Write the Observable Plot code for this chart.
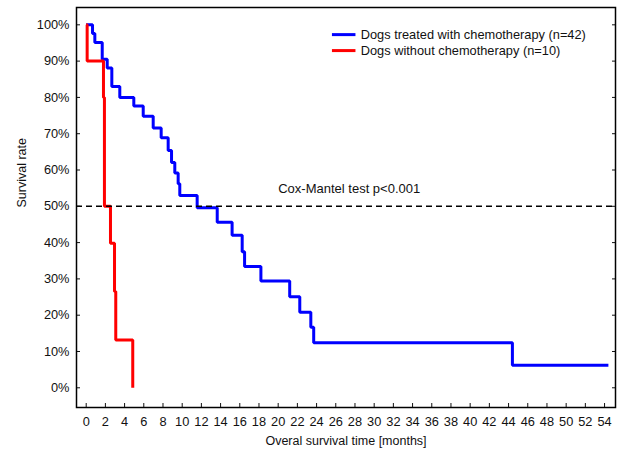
<!DOCTYPE html>
<html>
<head>
<meta charset="utf-8">
<script src="https://cdn.jsdelivr.net/npm/d3@7"></script>
<script src="https://cdn.jsdelivr.net/npm/@observablehq/plot@0.6"></script>
<style>
  html, body { margin: 0; padding: 0; background: #fff; }
  #chart svg { display: block; }
</style>
</head>
<body>
<div id="chart"></div>
<script>
// Kaplan–Meier steps (time in months, survival fraction)
const chemoTime = [0, 0.66, 0.9, 1.67, 2.19, 2.67, 3.5, 4.96, 5.94, 6.98, 7.81, 8.54, 8.89, 9.23, 9.58, 9.75, 11.56, 13.65, 15.2, 16.25, 16.5, 18.2, 21.2, 22.25, 23.4, 23.7, 44.4, 54.4];
const chemoSurv = [1, 0.976, 0.951, 0.905, 0.881, 0.83, 0.80, 0.776, 0.748, 0.716, 0.689, 0.654, 0.621, 0.592, 0.562, 0.530, 0.496, 0.456, 0.42, 0.375, 0.334, 0.294, 0.251, 0.208, 0.167, 0.124, 0.062, 0.062];
const noChemoTime = [0, 0.1, 1.8, 1.9, 2.53, 2.95, 3.08, 4.85, 4.85];
const noChemoSurv = [1, 0.9, 0.8, 0.5, 0.398, 0.265, 0.132, 0.132, 0];

const seriesNames = ["Dogs treated with chemotherapy (n=42)", "Dogs without chemotherapy (n=10)"];
const seriesColors = ["#0000ff", "#ff0000"];

const xTicks = d3.range(0, 55, 2);
const yTicks = d3.range(0, 11).map(i => i / 10);

const annotation = {text: "Cox-Mantel test p<0.001", x: 27.4, y: 0.548};
const threshold = [0.5];

// legend placement in data units
const legendLineX = [25.6, 28.05];
const legendTextX = 28.6;
const legendY = [0.973, 0.929];

const chemo = chemoTime.map((t, i) => ({t, s: chemoSurv[i]}));
const noChemo = noChemoTime.map((t, i) => ({t, s: noChemoSurv[i]}));
const legend = seriesNames.map((name, i) => ({name, color: seriesColors[i], y: legendY[i]}));

const pct = d => Math.round(d * 100) + "%";

const chart = Plot.plot({
  width: 622,
  height: 455,
  marginLeft: 76,
  marginRight: 7,
  marginTop: 7,
  marginBottom: 48,
  style: {fontFamily: "'Liberation Sans', Arial, sans-serif", fontSize: "12.8px", background: "#fff", color: "#111"},
  x: {domain: [-1.01, 55.14], label: null},
  y: {domain: [-0.0543, 1.0477], label: null},
  marks: [
    Plot.line(chemo, {x: "t", y: "s", curve: "step-after", stroke: seriesColors[0], strokeWidth: 3, strokeLinecap: "butt", strokeLinejoin: "miter"}),
    Plot.line(noChemo, {x: "t", y: "s", curve: "step-after", stroke: seriesColors[1], strokeWidth: 3, strokeLinecap: "butt", strokeLinejoin: "miter"}),
    Plot.ruleY(threshold, {stroke: "#000", strokeWidth: 1.5, strokeDasharray: "6,4"}),
    Plot.text([annotation], {x: "x", y: "y", text: "text", textAnchor: "middle", fill: "#111", fontSize: 13}),
    // legend
    Plot.link(legend, {x1: () => legendLineX[0], x2: () => legendLineX[1], y1: "y", y2: "y", stroke: "color", strokeWidth: 3}),
    Plot.text(legend, {x: () => legendTextX, y: "y", text: "name", textAnchor: "start", fill: "#111", fontSize: 12.8}),
    // axes
    Plot.axisX({ticks: xTicks, tickSize: 0, tickPadding: 9, tickFormat: d => d, label: null}),
    Plot.axisX({ticks: xTicks, tickSize: -4, tickFormat: () => "", label: null}),
    Plot.axisY({ticks: yTicks, tickSize: 0, tickPadding: 7, tickFormat: pct, label: null}),
    Plot.axisY({ticks: yTicks, tickSize: -4, tickFormat: () => "", label: null}),
    Plot.axisY({ticks: yTicks, anchor: "right", tickSize: -4, tickFormat: () => "", label: null}),
    Plot.frame({stroke: "#000", strokeWidth: 1.5}),
    Plot.text(["Overal survival time [months]"], {frameAnchor: "bottom", dy: 37, fill: "#111", fontSize: 12.5}),
    Plot.text(["Survival rate"], {frameAnchor: "left", dx: -55, rotate: -90, fill: "#111", fontSize: 12.5})
  ]
});
document.getElementById("chart").appendChild(chart);
</script>
</body>
</html>
